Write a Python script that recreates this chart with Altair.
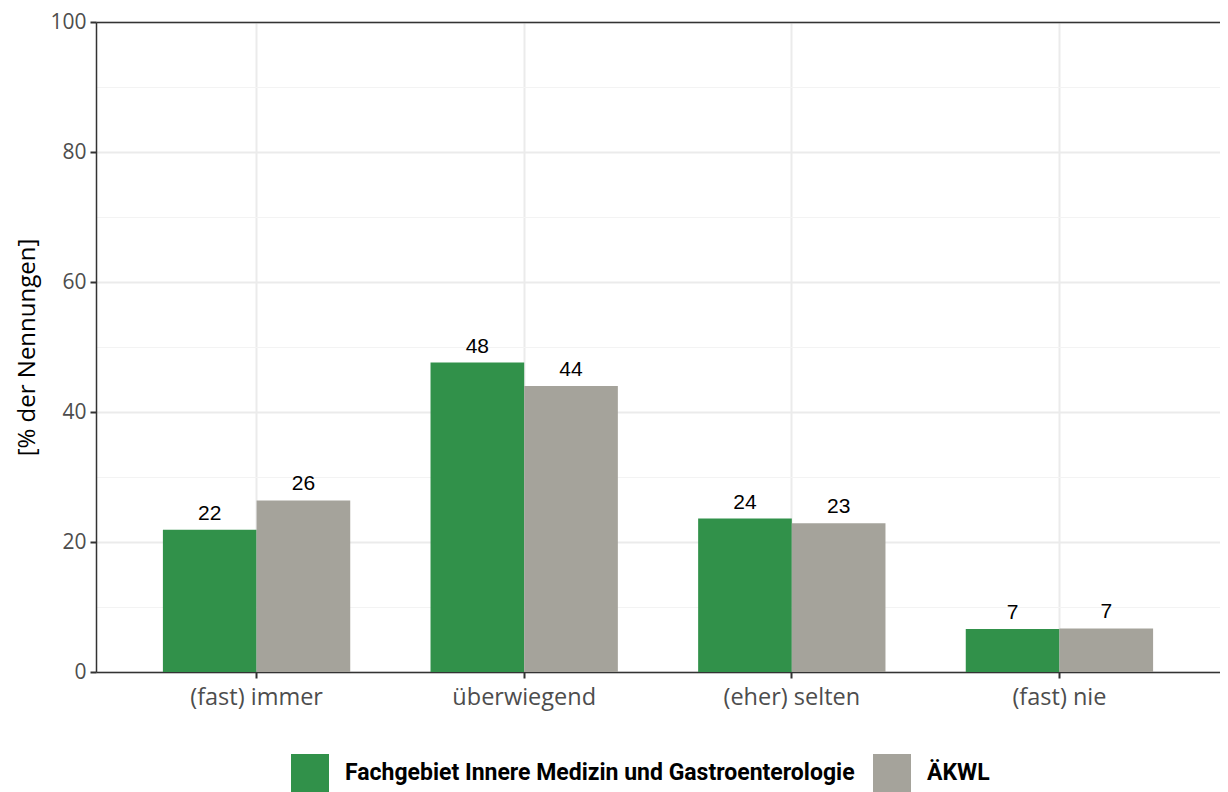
import altair as alt
import pandas as pd

categories = ["(fast) immer", "überwiegend", "(eher) selten", "(fast) nie"]
groups = ["Fachgebiet Innere Medizin und Gastroenterologie", "ÄKWL"]
values_fach = [21.9, 47.6, 23.6, 6.6]
values_aekwl = [26.4, 44.0, 22.9, 6.7]
colors = ["#31914A", "#A5A39B"]
y_ticks = list(range(0, 101, 10))

rows = []
for c, a, b in zip(categories, values_fach, values_aekwl):
    rows.append({"Kategorie": c, "Gruppe": groups[0], "Wert": a})
    rows.append({"Kategorie": c, "Gruppe": groups[1], "Wert": b})
df = pd.DataFrame(rows)

xscale = alt.Scale(domain=categories, paddingInner=0.3, paddingOuter=0.25)
xoff = alt.XOffset("Gruppe:N", sort=groups,
                   scale=alt.Scale(domain=groups, paddingInner=0, paddingOuter=0))
yscale = alt.Scale(domain=[0, 100], nice=False, zero=True)

bars = alt.Chart(df).mark_bar().encode(
    x=alt.X("Kategorie:N", sort=categories, scale=xscale,
            axis=alt.Axis(title=None, labelFont="Open Sans", labelFontSize=23.5,
                          labelColor="#4D4D4D", labelAngle=0, domainColor="#333333",
                          domainWidth=1.5, tickColor="#333333", tickSize=6, tickWidth=2,
                          grid=True, gridColor="#EBEBEB", gridWidth=2, labelPadding=7)),
    xOffset=xoff,
    y=alt.Y("Wert:Q", scale=yscale,
            axis=alt.Axis(title="[% der Nennungen]", values=y_ticks,
                          labelExpr="datum.value % 20 === 0 ? datum.label : ''",
                          labelFont="Open Sans", labelFontSize=21, labelColor="#4D4D4D",
                          labelPadding=4,
                          titleFont="Open Sans", titleFontSize=24, titleFontWeight="normal",
                          titleColor="#000000", titlePadding=10,
                          domainColor="#333333", domainWidth=1.5,
                          tickColor="#333333", tickSize=6, tickWidth=2,
                          tickOpacity={"condition": {"test": "datum.value % 20 === 0", "value": 1}, "value": 0},
                          gridColor={"condition": {"test": "datum.value % 20 === 0", "value": "#EBEBEB"}, "value": "#F3F3F3"},
                          gridWidth={"condition": {"test": "datum.value % 20 === 0", "value": 2}, "value": 1})),
    color=alt.Color("Gruppe:N", sort=groups,
                    scale=alt.Scale(domain=groups, range=colors),
                    legend=alt.Legend(title=None, orient="none", legendX=195, legendY=732,
                                      direction="horizontal",
                                      symbolType="square", symbolSize=1444,
                                      symbolStrokeWidth=0, symbolOpacity=1,
                                      labelFont="Roboto", labelFontSize=23, labelLimit=0,
                                      labelFontWeight="bold", labelColor="#000000",
                                      labelOffset=16, columnPadding=18)),
)

labels = alt.Chart(df).mark_text(baseline="alphabetic", dy=-10, font="Liberation Sans",
                                 fontSize=21, color="#000000").encode(
    x=alt.X("Kategorie:N", sort=categories, scale=xscale,
            axis=alt.Axis(orient="top", labels=False, ticks=False, grid=False, title=None,
                          domainColor="#333333", domainWidth=1.5)),
    xOffset=xoff,
    y=alt.Y("Wert:Q", scale=yscale),
    text=alt.Text("Wert:Q", format=".0f"),
)

chart = alt.layer(bars, labels).resolve_axis(x="independent").properties(
    width=1124, height=650, padding={"left": 7, "top": 3, "right": 0, "bottom": 0}
).configure_view(stroke=None).configure(background="white")

chart.save("out.html", embed_options={"renderer": "svg", "actions": False})
